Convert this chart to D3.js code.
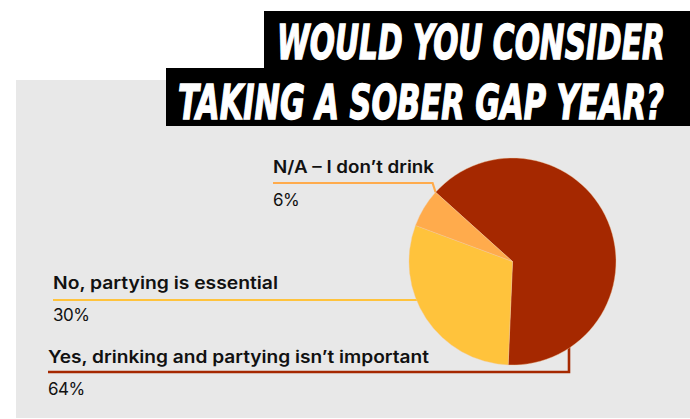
<!DOCTYPE html>
<html><head><meta charset="utf-8">
<script src="https://cdn.jsdelivr.net/npm/d3@7"></script>
<style>
html,body{margin:0;padding:0;background:#fff;}
svg{display:block;}
</style></head>
<body>
<svg id="chart" width="690" height="419"></svg>
<script>
// ---- data ----
const categories = ["Yes, drinking and partying isn\u2019t important", "No, partying is essential", "N/A \u2013 I don\u2019t drink"];
const values = [64, 30, 6];
const colors = ["#A52800", "#FFC33C", "#FFAB4C"];
const titleLines = ["WOULD YOU CONSIDER", "TAKING A SOBER GAP YEAR?"];

// ---- layout ----
const W = 690, H = 419;
const svg = d3.select("#chart");
const cx = 512.5, cy = 261.5, R = 103.5;
const startDeg = -48;

// background panel
svg.append("rect").attr("x", 16).attr("y", 80).attr("width", W - 16).attr("height", 338).attr("fill", "#E8E8E8");

// title boxes
svg.append("rect").attr("x", 264).attr("y", 11).attr("width", W - 264).attr("height", 58).attr("fill", "#000");
svg.append("rect").attr("x", 166).attr("y", 68).attr("width", W - 166).attr("height", 58).attr("fill", "#000");
const titleLayout = [{x: 277, y: 59, len: 388}, {x: 178, y: 119, len: 486}];
const fs = 32, vScale = 1.5;
svg.selectAll("text.title").data(titleLines).join("text")
  .attr("class", "title")
  .attr("x", 0).attr("y", 0)
  .attr("fill", "#fff")
  .attr("stroke", "#fff")
  .attr("stroke-width", 0.9)
  .style("font-family", "'DejaVu Sans Condensed','DejaVu Sans',sans-serif")
  .style("font-stretch", "condensed")
  .style("font-weight", "bold")
  .style("font-style", "italic")
  .style("font-size", fs + "px")
  .text(d => d)
  .each(function(d, i) {
    const L = titleLayout[i];
    const w = this.getComputedTextLength();
    const sx = L.len / w;
    d3.select(this).attr("transform", `translate(${L.x},${L.y}) scale(${sx},${vScale})`);
  });

// pie
const pie = d3.pie().sort(null).value(d => d)
  .startAngle(startDeg * Math.PI / 180)
  .endAngle(startDeg * Math.PI / 180 + 2 * Math.PI);
const arcs = pie(values);
const arc = d3.arc().innerRadius(0).outerRadius(R);

// label layout per category (index matches categories)
const labelLayout = [
  {x: 48, nameY: 363, lineY: 372, pctY: 395, nameLen: 381},
  {x: 53, nameY: 289, lineY: 300, pctY: 321, nameLen: 225},
  {x: 273, nameY: 173, lineY: 183, pctY: 206, nameLen: 161}
];

// leader lines (drawn under the pie)
const leaders = svg.append("g");
arcs.forEach((a, i) => {
  const L = labelLayout[i];
  let pts;
  if (i === 0) {
    const vx = cx + 56.5;
    pts = [[L.x, L.lineY], [vx, L.lineY], [vx, cy]];
  } else if (i === 1) {
    pts = [[L.x, L.lineY], [cx, L.lineY]];
  } else {
    const p = d3.pointRadial(a.endAngle, R);
    pts = [[L.x, L.lineY], [cx + p[0] - 3, L.lineY], [cx + p[0], cy + p[1]]];
  }
  leaders.append("path")
    .attr("d", d3.line()(pts))
    .attr("fill", "none")
    .attr("stroke", colors[i])
    .attr("stroke-width", i === 0 ? 2.6 : 2.2);
});

svg.append("g").attr("transform", `translate(${cx},${cy})`)
  .selectAll("path").data(arcs).join("path")
  .attr("d", arc)
  .attr("fill", (d, i) => colors[i])
  .attr("stroke", "#f3c9a0")
  .attr("stroke-width", 0.4);

// labels
const labels = svg.append("g").style("font-family", "Inter, 'Noto Sans', sans-serif").attr("fill", "#111");
categories.forEach((c, i) => {
  const L = labelLayout[i];
  labels.append("text")
    .attr("x", L.x).attr("y", L.nameY)
    .attr("textLength", L.nameLen).attr("lengthAdjust", "spacingAndGlyphs")
    .style("font-size", "17px").style("font-weight", 600)
    .text(c);
  labels.append("text")
    .attr("x", L.x).attr("y", L.pctY)
    .style("font-size", "17px").style("font-weight", 400)
    .style("letter-spacing", "-0.5px")
    .text(values[i] + "%");
});
</script>
</body></html>
